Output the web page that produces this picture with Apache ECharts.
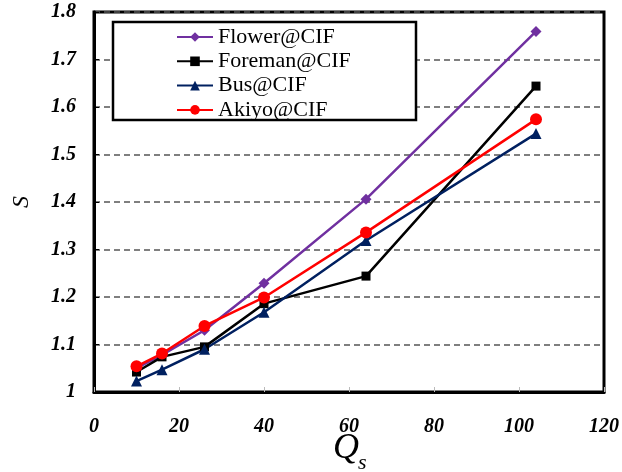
<!DOCTYPE html>
<html>
<head>
<meta charset="utf-8">
<script src="https://cdn.jsdelivr.net/npm/echarts@6/dist/echarts.min.js"></script>
<style>html,body{margin:0;padding:0;background:#fff;}#c{width:622px;height:472px;}</style>
</head>
<body>
<div id="c"></div>
<script>
const qs = [10, 16, 26, 40, 64, 104];
const flower = [1.050, 1.078, 1.130, 1.229, 1.406, 1.759];
const foreman = [1.042, 1.074, 1.095, 1.186, 1.244, 1.644];
const bus = [1.023, 1.047, 1.090, 1.168, 1.319, 1.544];
const akiyo = [1.054, 1.081, 1.139, 1.199, 1.336, 1.574];
const xTicks = [0, 20, 40, 60, 80, 100, 120];
const yTicks = [1, 1.1, 1.2, 1.3, 1.4, 1.5, 1.6, 1.7, 1.8];

const F = 'Liberation Serif';
const pair = (ys) => qs.map((x, i) => [x, ys[i]]);
const mk = (name, ys, color, symbol, size) => ({
  name, type: 'line', data: pair(ys), symbol, symbolSize: size,
  lineStyle: { color, width: 2.5 }, itemStyle: { color },
  emphasis: { disabled: true }, animation: false
});

const chart = echarts.init(document.getElementById('c'), null, { renderer: 'canvas' });
chart.setOption({
  backgroundColor: '#fff',
  animation: false,
  grid: { left: 94, top: 12, right: 15, bottom: 80, show: true, borderColor: '#000', borderWidth: 3, backgroundColor: 'transparent' },
  xAxis: {
    type: 'value', min: xTicks[0], max: xTicks[xTicks.length - 1], interval: 20,
    axisLine: { show: true, lineStyle: { color: '#000', width: 3 } },
    axisTick: { show: true, inside: true, length: 5, lineStyle: { color: '#bbb', width: 1 } },
    splitLine: { show: false },
    axisLabel: { margin: 25, color: '#000', fontFamily: F, fontSize: 20, fontWeight: 'bold', fontStyle: 'italic' }
  },
  yAxis: {
    type: 'value', min: yTicks[0], max: yTicks[yTicks.length - 1], interval: 0.1,
    axisLine: { show: true, lineStyle: { color: '#000', width: 3 } },
    axisTick: { show: true, inside: true, length: 5, lineStyle: { color: '#000', width: 1 } },
    splitLine: { show: true, lineStyle: { color: '#555', width: 1.5, type: [6, 4] } },
    axisLabel: {
      margin: 18, color: '#000', fontFamily: F, fontSize: 20, fontWeight: 'bold', fontStyle: 'italic',
      formatter: v => (Math.abs(v - 1) < 1e-9 ? '1' : v.toFixed(1))
    }
  },
  legend: {
    orient: 'vertical', left: 176, top: 26, padding: 0, itemWidth: 36, itemHeight: 12, itemGap: 2.3,
    z: 6,
    textStyle: { fontFamily: F, fontSize: 22, color: '#000', lineHeight: 22 },
    data: ['Flower@CIF', 'Foreman@CIF', 'Bus@CIF', 'Akiyo@CIF']
  },
  graphic: [
    { type: 'rect', z: 5, shape: { x: 113, y: 22, width: 303, height: 98 }, style: { fill: '#fff', stroke: '#000', lineWidth: 2.5 } },
    { type: 'text', z: 5, left: 333, top: 431, style: { text: 'Q', fontFamily: F, fontSize: 36, fontStyle: 'italic', fill: '#000' } },
    { type: 'text', z: 5, left: 358, top: 452, style: { text: 's', fontFamily: F, fontSize: 22, fontStyle: 'italic', fill: '#000' } },
    { type: 'text', z: 5, x: 22, y: 202, rotation: Math.PI / 2, style: { text: 'S', fontFamily: F, fontSize: 24, fontStyle: 'italic', fill: '#000', align: 'center', verticalAlign: 'middle' } }
  ],
  series: [
    mk('Flower@CIF', flower, '#7030A0', 'diamond', 11),
    mk('Foreman@CIF', foreman, '#000000', 'rect', 9),
    mk('Bus@CIF', bus, '#002060', 'triangle', 11),
    mk('Akiyo@CIF', akiyo, '#FF0000', 'circle', 12)
  ]
});
</script>
</body>
</html>
